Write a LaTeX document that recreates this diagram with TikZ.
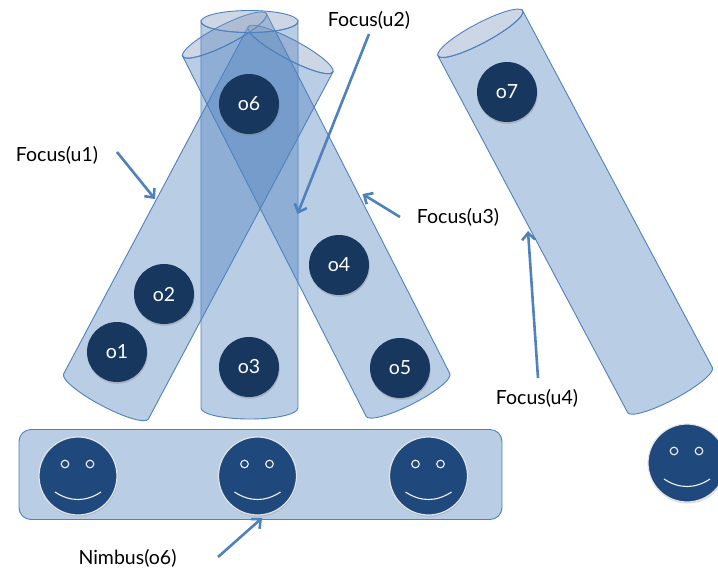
\documentclass[tikz,border=0pt]{standalone}
\usepackage{fontspec}
\setmainfont{Lato}
\usetikzlibrary{arrows.meta,shadows}
\definecolor{accent}{RGB}{79,129,189}
\definecolor{capcol}{RGB}{130,152,188}
\definecolor{objcol}{RGB}{23,55,94}
\definecolor{facecol}{RGB}{31,73,125}
\newcommand\mycyl[3]{%
  \path[cylbody] (-#2,0) -- (-#2,#1) arc[start angle=180,end angle=360,x radius=#2,y radius=#3]
     -- (#2,0) arc[start angle=0,end angle=-180,x radius=#2,y radius=#3] -- cycle;
  \path[cylcap] (0,#1) ellipse[x radius=#2,y radius=#3];
}
\tikzset{
  cylbody/.style={fill=accent, fill opacity=0.4, draw=accent, line width=0.9pt},
  cylcap/.style={fill=capcol, fill opacity=0.4, draw=accent, line width=0.9pt},
  nimbusbox/.style={fill=accent, fill opacity=0.4, draw=accent, line width=0.9pt, rounded corners=12pt},
  obj/.style={circle, fill=objcol, minimum size=60pt, inner sep=0pt, text=white,
    font=\fontsize{19.5}{22}\selectfont,
    drop shadow={shadow xshift=0.6pt, shadow yshift=-1.8pt, opacity=0.35}},
  face/.style={circle, fill=facecol, draw=white!80!gray, line width=1.2pt, minimum size=78pt, inner sep=0pt,
    drop shadow={shadow xshift=0.6pt, shadow yshift=-1.5pt, opacity=0.3}},
  facepart/.style={draw=white!90!gray, line width=1.1pt},
  lbl/.style={font=\fontsize{19.5}{22}\selectfont, text=black, inner sep=0pt},
  pointer/.style={draw=accent, line width=2.6pt, -{Straight Barb[length=7pt,width=13pt]}}
}
\begin{document}
\begin{tikzpicture}[x=1pt,y=1pt]
\useasboundingbox (0,0) rectangle (718,-574);
\clip (0,0) rectangle (718,-574);
% cylinders
\begin{scope}[shift={(106,-396.5)},rotate=-28]\mycyl{393}{48}{10}\end{scope}
\begin{scope}[shift={(408,-395)},rotate=27]\mycyl{404}{47}{10}\end{scope}
\begin{scope}[shift={(249.5,-408)}]\mycyl{386.5}{48.5}{11}\end{scope}
\begin{scope}[shift={(670,-390)},rotate=28]\mycyl{404}{48}{10}\end{scope}
% nimbus
\path[nimbusbox] (19,-429.5) rectangle (502,-519.5);
% objects
\node[obj] (o6) at (249,-104) {o6};
\node[obj] (o7) at (507,-92) {o7};
\node[obj] (o2) at (164,-294) {o2};
\node[obj] (o1) at (117,-352) {o1};
\node[obj] (o3) at (249,-367) {o3};
\node[obj] (o5) at (400,-368) {o5};
\node[obj] (o4) at (339,-265) {o4};
% faces
\foreach \n/\x/\y in {f1/78/-476, f2/257.5/-476, f3/428.5/-476, f4/687/-463}{
  \node[face] (\n) at (\x,\y) {};
  \draw[facepart] ([shift={(-13,12)}]\n.center) circle[radius=3.8];
  \draw[facepart] ([shift={(12,12)}]\n.center) circle[radius=3.8];
  \draw[facepart] ([shift={(-23,-16)}]\n.center) .. controls ([shift={(-8,-26)}]\n.center) and ([shift={(8,-26)}]\n.center) .. ([shift={(23,-16)}]\n.center);
}
% labels
\node[lbl] (l1) at (57,-155) {Focus(u1)};
\node[lbl] (l2) at (369,-20) {Focus(u2)};
\node[lbl] (l3) at (458,-217) {Focus(u3)};
\node[lbl] (l4) at (537,-398) {Focus(u4)};
\node[lbl] (l5) at (127.5,-558) {Nimbus(o6)};
% arrows
\coordinate (a1s) at (117,-152); \coordinate (a1e) at (155,-199);
\coordinate (a2s) at (369,-34); \coordinate (a2e) at (297.5,-214);
\coordinate (a3s) at (400,-217); \coordinate (a3e) at (362.5,-194);
\coordinate (a4s) at (538,-378); \coordinate (a4e) at (528,-231);
\coordinate (a5s) at (218,-557); \coordinate (a5e) at (262,-518);
\draw[pointer] (a1s) -- (a1e);
\draw[pointer] (a2s) -- (a2e);
\draw[pointer] (a3s) -- (a3e);
\draw[pointer] (a4s) -- (a4e);
\draw[pointer] (a5s) -- (a5e);
\end{tikzpicture}
\end{document}
